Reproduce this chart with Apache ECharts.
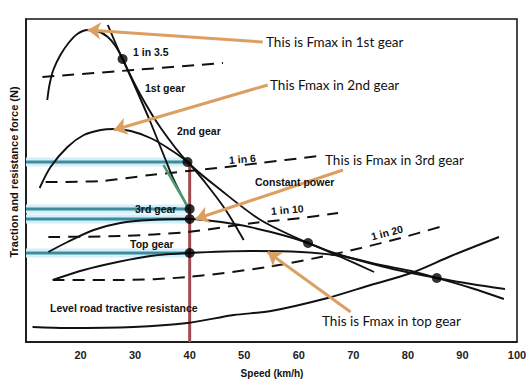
<!DOCTYPE html>
<html><head><meta charset="utf-8">
<script src="https://cdn.jsdelivr.net/npm/echarts@6/dist/echarts.min.js"></script>
<style>html,body{margin:0;padding:0;background:#fff}#c{width:530px;height:381px}</style>
</head><body><div id="c"></div>
<script>
// Speed (km/h) vs force (arbitrary units)
const speedTicks = [20, 30, 40, 50, 60, 70, 80, 90, 100];
const gear1 = [[13.9,242],[14.3,257],[15.0,272],[16.3,287],[17.8,299],[19.4,308],[21.3,312],[23.1,311],[25.0,305],[26.4,296],[27.7,283],[30.1,254],[32.8,220],[35.6,182],[37.1,162],[39.8,133]];
const gear2 = [[12.5,154],[14.5,175],[17.6,195],[20.6,207],[23.7,212],[26.1,213],[29.2,211],[32.8,204],[36.0,194],[39.6,180],[42.9,159],[46.6,132],[49.9,102]];
const gear3 = [[14.1,90],[17.6,100],[22.4,112],[27.3,119],[32.8,122],[39.8,123],[48.1,118],[54.9,110],[61.7,99],[67.7,85],[73.8,70]];
const gearTop = [[14.9,62],[20.6,72],[26.8,80],[32.8,86],[39.8,89],[51.2,91],[60.4,90],[67.7,86],[75.0,77],[80.6,71],[85.3,64],[91.6,54],[97.6,43]];
const constantPower = [[25.0,317],[27.7,283],[31.0,247],[34.7,214],[39.6,180],[45.7,152],[53.0,122],[61.7,99],[67.7,87],[75.0,76],[80.6,69],[85.3,64],[91.6,58],[97.8,53]];
const levelRoad = [[11.2,15],[17.6,14],[29.7,15],[39.6,19],[48.1,27],[54.9,31],[65.3,44],[73.2,57],[80.6,69],[87.9,86],[96.7,105]];
const grade3_5 = [[13.0,265],[29.7,272],[46.1,279]];
const grade6 = [[13.6,160],[23.7,161],[32.8,167],[45.1,174],[53.0,179],[63.5,186]];
const grade10 = [[14.1,105],[27.3,106],[39.6,110],[51.7,119],[60.4,124],[67.2,129]];
const grade20 = [[14.9,62],[27.3,62],[39.6,65],[54.3,75],[64.0,85],[71.4,94],[78.7,104],[86.4,116]];
const maxPowerPoints = [[27.7,283],[39.6,180],[61.7,99],[85.3,64]];
const fmaxAt40 = [[40,133],[40,123],[40,89]];
const fmaxLevels = [180, 133, 123, 89];
const refSpeed = 40;
const greenSegment = [[35.2,177],[39.8,134]];
const arrows = [
  [[53.4,300],[21.3,312]],
  [[54.3,257],[26.1,212]],
  [[68.1,172],[41.1,123]],
  [[69.5,30],[54.3,90]]
];

const chart = echarts.init(document.getElementById('c'), null, {renderer: 'svg'});
const blk = '#111';
function curve(name, data, dashed) {
  return {name, type: 'line', data, showSymbol: false, smooth: 0.3,
    lineStyle: {color: blk, width: dashed ? 2 : 1.9, type: dashed ? [12, 8] : 'solid'}, z: 3, silent: true};
}
const series = [];
fmaxLevels.forEach(v => series.push({type: 'line', data: [[10, v], [refSpeed, v]], showSymbol: false,
  lineStyle: {color: '#d3f0fa', width: 9}, z: 1, silent: true}));
fmaxLevels.forEach(v => series.push({type: 'line', data: [[10, v], [refSpeed, v]], showSymbol: false,
  lineStyle: {color: '#3d8b9b', width: 3}, z: 2, silent: true}));
series.push({type: 'line', data: [[refSpeed, fmaxLevels[0]], [refSpeed, 0]], showSymbol: false,
  lineStyle: {color: '#a24a50', width: 3}, z: 2, silent: true});
series.push(curve('1st', gear1), curve('2nd', gear2), curve('3rd', gear3), curve('top', gearTop),
  curve('cp', constantPower), curve('road', levelRoad),
  curve('g35', grade3_5, true), curve('g6', grade6, true), curve('g10', grade10, true), curve('g20', grade20, true));
series.push({type: 'line', data: greenSegment, showSymbol: false, lineStyle: {color: '#4f9a72', width: 2.5}, z: 4, silent: true});
series.push({type: 'scatter', data: maxPowerPoints.concat(fmaxAt40), symbolSize: 10, itemStyle: {color: '#000'}, z: 6, silent: true});
series.push({type: 'lines', coordinateSystem: 'cartesian2d', data: arrows.map(c => ({coords: c})),
  symbol: ['none', 'arrow'], symbolSize: 13, lineStyle: {color: '#dc9f62', width: 3, opacity: 1}, z: 7, silent: true});

const bold = 'bold 10.5px "Liberation Sans", Arial, sans-serif';
const note = '13.5px Lato, "Open Sans", sans-serif';
function txt(text, x, y, font, rot, align) {
  return {type: 'text', x, y, rotation: rot || 0, z: 10,
    style: {text, font, fill: blk, align: align || 'left', verticalAlign: 'middle', textAlign: align || 'left', textVerticalAlign: 'middle'}};
}
chart.setOption({
  animation: false,
  grid: {left: 26, right: 13, top: 19, bottom: 39, show: true, borderColor: '#111', borderWidth: 1.5},
  xAxis: {type: 'value', min: 10, max: 100, interval: 10,
    axisLine: {show: true, lineStyle: {color: '#111', width: 1.5}}, axisTick: {show: false}, splitLine: {show: false},
    axisLabel: {margin: 7, fontSize: 11, fontWeight: 'bold', color: '#222', fontFamily: '"Liberation Sans", Arial',
      formatter: v => speedTicks.includes(v) ? String(v) : ''}},
  yAxis: {type: 'value', min: 0, max: 323, axisLine: {show: true, lineStyle: {color: '#111', width: 1.5}},
    axisTick: {show: false}, axisLabel: {show: false}, splitLine: {show: false}},
  series,
  graphic: [
    txt('Traction and resistance force (N)', 14, 172, 'bold 11px "Liberation Sans", Arial', Math.PI / 2, 'center'),
    txt('Speed (km/h)', 272, 373, 'bold 10px "Liberation Sans", Arial', 0, 'center'),
    txt('1 in 3.5', 133, 52, bold),
    txt('1st gear', 145, 88, bold),
    txt('2nd gear', 177, 131, bold),
    txt('1 in 6', 229, 160, bold, 0.08),
    txt('Constant power', 255, 182, bold),
    txt('1 in 10', 271, 211, bold, 0.08),
    txt('1 in 20', 387, 233, bold, 0.26, 'center'),
    txt('3rd gear', 135, 209, bold),
    txt('Top gear', 130, 244, bold),
    txt('Level road tractive resistance', 50, 308, bold),
    txt('This is Fmax in 1st gear', 266, 42, note),
    txt('This Fmax in 2nd gear', 270, 85, note),
    txt('This is Fmax in 3rd gear', 325, 160, note),
    txt('This is Fmax in top gear', 322, 321, note)
  ]
});
</script></body></html>
